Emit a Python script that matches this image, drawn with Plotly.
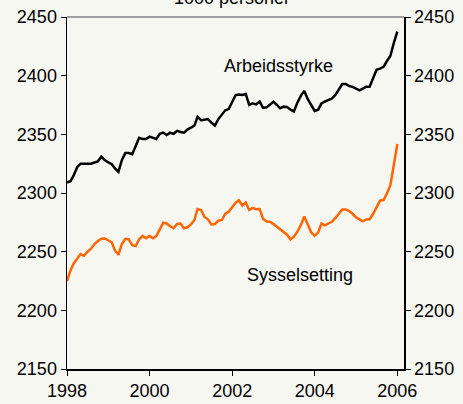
import pandas as pd
import plotly.graph_objects as go

months = pd.date_range("1998-01-01", periods=97, freq="MS")

arbeidsstyrke = [
    2309, 2310, 2315, 2322, 2325, 2325, 2325, 2325, 2326, 2327, 2331, 2328,
    2326, 2324.5, 2321, 2318, 2328, 2334, 2334, 2333, 2340, 2347, 2346, 2346,
    2348, 2346.6, 2346, 2350.5, 2351.5, 2349.5, 2351.4, 2350.5, 2353, 2352, 2351.4, 2354,
    2356, 2357.4, 2365, 2362, 2362.5, 2363, 2360, 2357.5, 2363, 2367, 2370.5, 2371.5,
    2377, 2383.5, 2384, 2383.5, 2384.4, 2375, 2376.5, 2375.5, 2378, 2372.5, 2373, 2375,
    2377.8, 2375, 2372.2, 2373.6, 2373.4, 2371, 2369.5, 2377, 2383, 2387, 2380, 2375,
    2370, 2371, 2376.4, 2378, 2379.5, 2380.5, 2383.3, 2387.8, 2392.9, 2392.9, 2391.2, 2390.5,
    2389, 2387.5, 2389, 2390.5, 2390.5, 2398, 2405, 2406, 2407.5, 2412.5, 2417, 2428,
    2437.5,
]

sysselsetting = [
    2225, 2234, 2240, 2244, 2248, 2246.5, 2250, 2252.5, 2256.5, 2259, 2261, 2261.3,
    2259.8, 2258, 2251, 2247.3, 2256.5, 2261, 2260.5, 2255.5, 2254.7, 2260.5, 2263.3, 2261.5,
    2263.4, 2261.4, 2263.3, 2269, 2274.7, 2274, 2271.6, 2270, 2273.6, 2274, 2270, 2270.8,
    2273.2, 2277, 2286.4, 2285.5, 2279.6, 2277.6, 2273.3, 2273.6, 2276.4, 2277, 2282.3, 2284,
    2288, 2291.8, 2293.8, 2289.3, 2291.8, 2285.5, 2287.3, 2286.2, 2286.4, 2278, 2275.7, 2275.6,
    2273.6, 2271.2, 2268.8, 2266.8, 2264.5, 2260.5, 2262.8, 2267, 2272.8, 2280, 2272.5, 2266.5,
    2263.5, 2266.5, 2274, 2272.5, 2274, 2275.5, 2278.5, 2282.5, 2286, 2286, 2284.6, 2282.3,
    2279.2, 2277.5, 2275.8, 2277.4, 2277.6, 2282.3, 2287.5, 2293.5, 2294, 2299.5, 2306.8, 2325,
    2341.8,
]

y_ticks = [2150, 2200, 2250, 2300, 2350, 2400, 2450]
x_ticks = ["1998-01-01", "2000-01-01", "2002-01-01", "2004-01-01", "2006-01-01"]
x_ticklabels = ["1998", "2000", "2002", "2004", "2006"]

FONT = "Liberation Sans, Arial, sans-serif"
BG = "#f7f7f2"

fig = go.Figure()
fig.add_trace(go.Scatter(x=months, y=arbeidsstyrke, mode="lines",
                         line=dict(color="#000000", width=2.5), showlegend=False,
                         hoverinfo="skip"))
fig.add_trace(go.Scatter(x=months, y=sysselsetting, mode="lines",
                         line=dict(color="#ff6600", width=2.5), showlegend=False,
                         hoverinfo="skip"))
# empty trace so the mirrored right-hand axis is drawn
fig.add_trace(go.Scatter(x=[months[0]], y=[None], yaxis="y2", mode="lines",
                         showlegend=False, hoverinfo="skip"))

axis_common = dict(
    range=[2150, 2450], tickvals=y_ticks, ticktext=[str(v) for v in y_ticks],
    ticks="outside", ticklen=5, tickcolor="#000000", showgrid=False, zeroline=False,
    showline=True, linecolor="#000000", linewidth=1.5, automargin=False,
    tickfont=dict(family=FONT, size=18, color="#000000"),
)

fig.update_layout(
    width=463, height=404,
    margin=dict(l=67, r=59, t=17, b=35, autoexpand=False),
    paper_bgcolor=BG, plot_bgcolor=BG,
    xaxis=dict(
        type="date", range=["1998-01-01", "2006-03-01"],
        tickvals=x_ticks, ticktext=x_ticklabels, automargin=False,
        ticks="outside", ticklen=5, tickcolor="#000000", showgrid=False, zeroline=False,
        showline=True, linecolor="#000000", linewidth=1.5,
        tickfont=dict(family=FONT, size=18, color="#000000"),
    ),
    yaxis=dict(side="left", **axis_common),
    yaxis2=dict(side="right", overlaying="y", anchor="x", **axis_common),
    shapes=[dict(type="line", xref="paper", yref="paper", x0=0, x1=1, y0=1, y1=1,
                 line=dict(color="#808080", width=1.5))],
    annotations=[
        dict(text="1000 personer", xref="paper", yref="paper", x=0.49, y=1.055,
             xanchor="center", yanchor="middle", showarrow=False,
             font=dict(family=FONT, size=18, color="#000000")),
        dict(text="Arbeidsstyrke", xref="x", yref="y", x="2003-02-15", y=2408.5,
             xanchor="center", yanchor="middle", showarrow=False,
             font=dict(family=FONT, size=18, color="#000000")),
        dict(text="Sysselsetting", xref="x", yref="y", x="2003-08-20", y=2230,
             xanchor="center", yanchor="middle", showarrow=False,
             font=dict(family=FONT, size=18, color="#000000")),
    ],
)

fig.write_html(
    "out.html",
    config={"displayModeBar": False, "staticPlot": True},
    post_script="document.body.style.margin='0';document.body.style.padding='0';"
                "document.body.style.overflow='hidden';"
                "document.body.style.background='" + BG + "';",
)
